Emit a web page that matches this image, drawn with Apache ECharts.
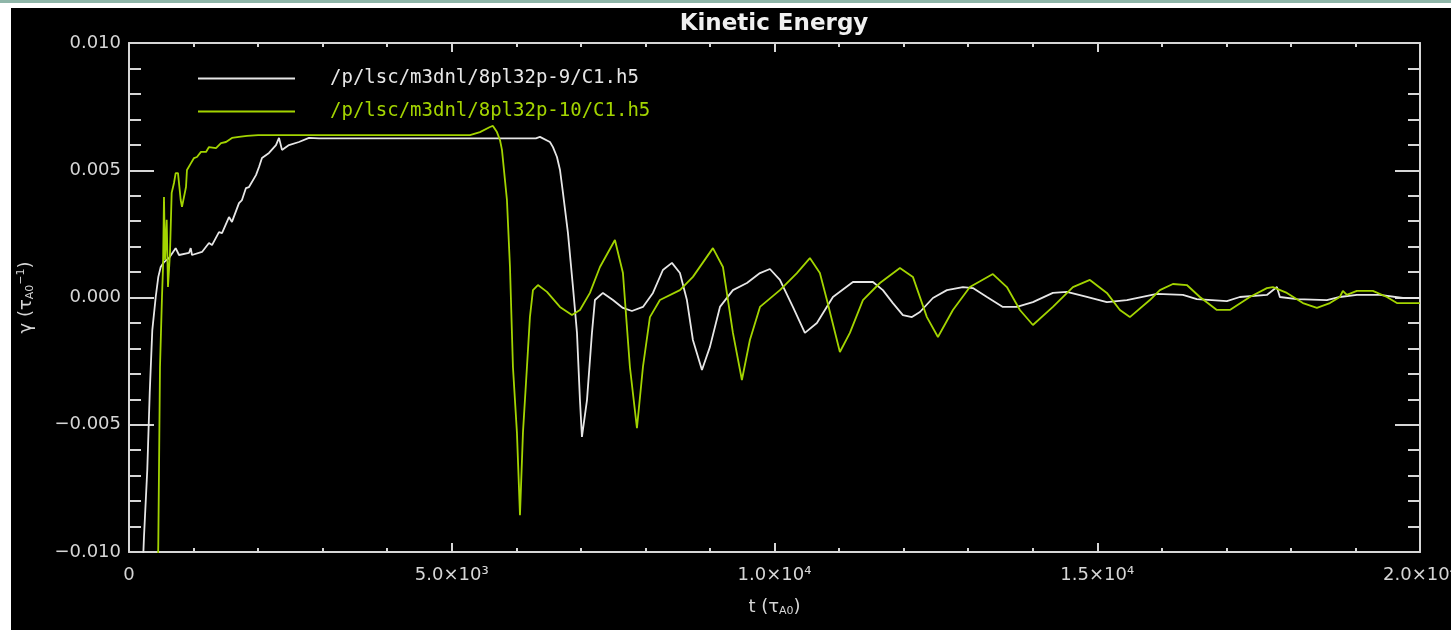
<!DOCTYPE html>
<html>
<head>
<meta charset="utf-8">
<title>Kinetic Energy</title>
<script src="https://cdn.jsdelivr.net/npm/echarts@6/dist/echarts.min.js"></script>
<style>
  html, body { margin: 0; padding: 0; background: #ffffff; width: 1451px; height: 630px; overflow: hidden; }
  #topbar { position: absolute; left: 0; top: 0; width: 1451px; height: 3px; background: #8fb6a9; }
  #chart { position: absolute; left: 11px; top: 8px; width: 1440px; height: 622px; background: #000000; }
</style>
</head>
<body>
<div id="topbar"></div>
<div id="chart"></div>
<script>
// growth rate gamma vs time t, run 8pl32p-9: [t, gamma]
const run9 = [
  [200,-0.0115],[232,-0.00941],[283,-0.00678],[321,-0.00375],[361,-0.00128],[414,0.00002],[454,0.00081],[491,0.00120],
  [542,0.00139],[620,0.00155],[723,0.00194],[775,0.00167],[929,0.00175],[956,0.00194],[976,0.00167],[1131,0.00179],
  [1239,0.00214],[1286,0.00206],[1394,0.00257],[1441,0.00253],[1549,0.00316],[1595,0.00297],[1704,0.00371],[1750,0.00383],
  [1812,0.00430],[1859,0.00434],[1967,0.00481],[2014,0.00513],[2060,0.00548],[2169,0.00568],[2277,0.00599],[2324,0.00627],
  [2370,0.00580],[2478,0.00599],[2633,0.00611],[2788,0.00627],[2943,0.00625],[3500,0.00625],[4500,0.00625],[5500,0.00625],
  [6304,0.00625],[6366,0.00631],[6521,0.00611],[6568,0.00591],[6630,0.00552],[6677,0.00501],[6723,0.00411],[6800,0.00254],
  [6878,0.00041],[6940,-0.00139],[6986,-0.00403],[7017,-0.00548],[7095,-0.00403],[7172,-0.00139],[7218,-0.00010],[7342,0.00018],
  [7497,-0.00010],[7652,-0.00041],[7791,-0.00053],[7962,-0.00037],[8117,0.00018],[8271,0.00108],[8411,0.00136],[8535,0.00096],
  [8643,-0.00010],[8736,-0.00167],[8876,-0.00285],[9000,-0.00194],[9155,-0.00037],[9356,0.00029],[9573,0.00057],[9775,0.00096],
  [9929,0.00112],[10084,0.00069],[10285,-0.00037],[10471,-0.00139],[10657,-0.00100],[10905,0.00002],[11215,0.00061],[11525,0.00061],
  [11679,0.00029],[11834,-0.00022],[11989,-0.00069],[12129,-0.00077],[12253,-0.00057],[12454,-0.00002],[12671,0.00029],[12919,0.00041],
  [13074,0.00037],[13291,0.00002],[13538,-0.00037],[13755,-0.00037],[14003,-0.00018],[14313,0.00018],[14530,0.00022],[14839,0.00002],
  [15149,-0.00018],[15459,-0.00010],[15924,0.00014],[16327,0.00010],[16543,-0.00006],[17008,-0.00014],[17209,0.00002],[17628,0.00010],
  [17783,0.00041],[17829,0.00002],[18093,-0.00006],[18557,-0.00010],[18758,0.00002],[19022,0.00010],[19378,0.00010],[19735,-0.00002],
  [20000,-0.00002]
];

// growth rate gamma vs time t, run 8pl32p-10: [t, gamma]
const run10 = [
  [440,-0.012],[454,-0.00965],[480,-0.00273],[511,0.00002],[527,0.00120],[542,0.00395],[558,0.00147],[584,0.00305],
  [604,0.00041],[635,0.00175],[661,0.00411],[697,0.00450],[723,0.00489],[759,0.00489],[801,0.00383],[821,0.00356],
  [883,0.00434],[898,0.00501],[960,0.00528],[1007,0.00548],[1053,0.00552],[1115,0.00572],[1193,0.00572],[1239,0.00591],
  [1348,0.00587],[1425,0.00607],[1503,0.00611],[1595,0.00627],[1704,0.00631],[1828,0.00635],[2000,0.00638],[3000,0.00638],
  [4000,0.00638],[5282,0.00638],[5437,0.00650],[5592,0.00670],[5638,0.00674],[5700,0.00650],[5747,0.00619],[5778,0.00580],
  [5824,0.00462],[5855,0.00383],[5902,0.00120],[5948,-0.00273],[6010,-0.00532],[6057,-0.00855],[6103,-0.00532],[6165,-0.00273],
  [6211,-0.00077],[6258,0.00029],[6335,0.00049],[6475,0.00022],[6676,-0.00037],[6862,-0.00069],[6986,-0.00049],[7141,0.00018],
  [7296,0.00120],[7528,0.00226],[7652,0.00096],[7760,-0.00273],[7869,-0.00513],[7962,-0.00273],[8070,-0.00077],[8225,-0.00010],
  [8535,0.00029],[8736,0.00081],[9046,0.00194],[9201,0.00120],[9356,-0.00139],[9495,-0.00324],[9619,-0.00167],[9775,-0.00037],
  [10084,0.00029],[10347,0.00096],[10548,0.00155],[10703,0.00096],[10812,-0.00010],[11013,-0.00214],[11168,-0.00139],[11370,-0.00010],
  [11633,0.00057],[11943,0.00116],[12144,0.00081],[12361,-0.00077],[12532,-0.00155],[12764,-0.00049],[13027,0.00041],[13383,0.00092],
  [13600,0.00041],[13802,-0.00049],[14003,-0.00108],[14313,-0.00037],[14623,0.00041],[14886,0.00069],[15149,0.00018],[15351,-0.00049],
  [15505,-0.00077],[15815,-0.00010],[15970,0.00029],[16172,0.00053],[16388,0.00049],[16590,0.00002],[16853,-0.00049],[17054,-0.00049],
  [17364,0.00002],[17628,0.00037],[17721,0.00041],[17938,0.00018],[18186,-0.00022],[18403,-0.00041],[18604,-0.00022],[18758,0.00002],
  [18805,0.00026],[18867,0.00010],[19022,0.00026],[19270,0.00026],[19487,0.00002],[19642,-0.00022],[20000,-0.00022]
];

const seriesNames = ['/p/lsc/m3dnl/8pl32p-9/C1.h5', '/p/lsc/m3dnl/8pl32p-10/C1.h5'];
const xTickLabels = ['0', '5.0×10³', '1.0×10⁴', '1.5×10⁴', '2.0×10⁴'];
const yTickLabels = ['\u22120.010', '\u22120.005', '0.000', '0.005', '0.010'];

const X_MIN = 0, X_MAX = 20000, X_STEP = 5000;
const Y_MIN = -0.010, Y_MAX = 0.010, Y_STEP = 0.005;

const AXIS = '#d6d6d6';
const WHITE = '#e6e6e6';
const GREEN = '#a3d400';
const FONT = 'DejaVu Sans';

const chart = echarts.init(document.getElementById('chart'), null, { renderer: 'canvas' });

function frameAxisX(position, withLabels) {
  return {
    type: 'value', position: position, min: X_MIN, max: X_MAX, interval: X_STEP,
    axisLine: { show: true, onZero: false, lineStyle: { color: AXIS, width: 2 } },
    axisTick: { show: true, inside: true, length: 9, lineStyle: { color: AXIS, width: 2 } },
    minorTick: { show: true, splitNumber: 5, length: 4, lineStyle: { color: AXIS, width: 2 } },
    splitLine: { show: false }, minorSplitLine: { show: false },
    axisLabel: withLabels ? {
      show: true, color: AXIS, fontFamily: FONT, fontSize: 18, margin: 14,
      showMinLabel: true, showMaxLabel: true, hideOverlap: false,
      formatter: v => xTickLabels[Math.round((v - X_MIN) / X_STEP)]
    } : { show: false }
  };
}

function frameAxisY(position, withLabels) {
  return {
    type: 'value', position: position, min: Y_MIN, max: Y_MAX, interval: Y_STEP,
    axisLine: { show: true, onZero: false, lineStyle: { color: AXIS, width: 2 } },
    axisTick: { show: true, inside: true, length: 25, lineStyle: { color: AXIS, width: 2 } },
    minorTick: { show: true, splitNumber: 5, length: 12, lineStyle: { color: AXIS, width: 2 } },
    splitLine: { show: false }, minorSplitLine: { show: false },
    axisLabel: withLabels ? {
      show: true, color: AXIS, fontFamily: FONT, fontSize: 18, margin: 8,
      showMinLabel: true, showMaxLabel: true, hideOverlap: false,
      formatter: v => yTickLabels[Math.round((v - Y_MIN) / Y_STEP)]
    } : { show: false }
  };
}

const xBottom = frameAxisX('bottom', true);
xBottom.name = 't (τ{sub|A0})';
xBottom.nameLocation = 'middle';
xBottom.nameGap = 46;
xBottom.nameTextStyle = {
  color: AXIS, fontFamily: FONT, fontSize: 18,
  rich: { sub: { fontSize: 11, fontFamily: FONT, color: AXIS, padding: [8, 0, 0, 0] } }
};

const yLeft = frameAxisY('left', true);
yLeft.name = 'γ (τ{sub|A0}{sup|\u22121})';
yLeft.nameLocation = 'middle';
yLeft.nameRotate = 90;
yLeft.nameGap = 92;
yLeft.nameTextStyle = {
  color: AXIS, fontFamily: FONT, fontSize: 18,
  rich: {
    sub: { fontSize: 11, fontFamily: FONT, color: AXIS, padding: [8, 0, 0, 0] },
    sup: { fontSize: 11, fontFamily: FONT, color: AXIS, padding: [0, 0, 10, 0] }
  }
};

chart.setOption({
  backgroundColor: '#000000',
  animation: false,
  grid: { left: 118, right: 31, top: 35, bottom: 78, containLabel: false, outerBoundsMode: 'none' },
  graphic: [{
    type: 'text', x: 763, y: 16,
    style: {
      text: 'Kinetic Energy', fill: '#f0f0f0', font: 'bold 23px "DejaVu Sans"',
      align: 'center', verticalAlign: 'middle'
    }
  }],
  legend: {
    show: true, orient: 'vertical', left: 182, top: 56, itemGap: 14,
    icon: 'rect', itemWidth: 97, itemHeight: 2,
    selectedMode: false,
    textStyle: { fontFamily: 'DejaVu Sans Mono', fontSize: 19, padding: [0, 0, 8, 30] },
    data: [
      { name: seriesNames[0], textStyle: { color: WHITE } },
      { name: seriesNames[1], textStyle: { color: GREEN } }
    ]
  },
  xAxis: [xBottom, frameAxisX('top', false)],
  yAxis: [yLeft, frameAxisY('right', false)],
  series: [
    {
      name: seriesNames[0], type: 'line', xAxisIndex: 0, yAxisIndex: 0,
      data: run9, showSymbol: false, symbol: 'none', clip: true,
      lineStyle: { color: WHITE, width: 1.8 }, itemStyle: { color: WHITE }
    },
    {
      name: seriesNames[1], type: 'line', xAxisIndex: 0, yAxisIndex: 0,
      data: run10, showSymbol: false, symbol: 'none', clip: true,
      lineStyle: { color: GREEN, width: 1.8 }, itemStyle: { color: GREEN }
    }
  ]
});
</script>
</body>
</html>
